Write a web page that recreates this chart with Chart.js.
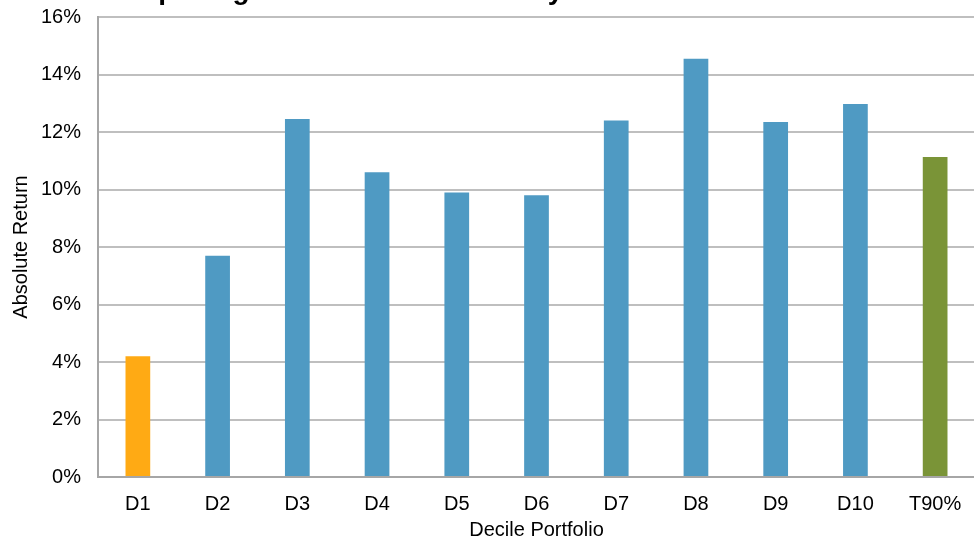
<!DOCTYPE html>
<html>
<head>
<meta charset="utf-8">
<script src="https://cdn.jsdelivr.net/npm/chart.js@4/dist/chart.umd.min.js"></script>
<style>
  html, body { margin: 0; padding: 0; background: #fff; overflow: hidden; }
  #wrap { position: relative; width: 975px; height: 540px; }
</style>
</head>
<body>
<div id="wrap"><canvas id="c"></canvas></div>
<script>
// Decile portfolios and their absolute returns (%)
const categories = ['D1', 'D2', 'D3', 'D4', 'D5', 'D6', 'D7', 'D8', 'D9', 'D10', 'T90%'];
const absoluteReturn = [4.2, 7.7, 12.45, 10.6, 9.9, 9.8, 12.4, 14.55, 12.35, 12.97, 11.13];
const yTicks = [0, 2, 4, 6, 8, 10, 12, 14, 16];
const chartTitle = 'Mid-Cap Weighted Total Return Analysis of the Russell';

const barColors = categories.map(c =>
  c === 'D1' ? '#FFAA14' : (c === 'T90%' ? '#7A9437' : '#4F9AC3'));

const FONT = "'Liberation Sans', Arial, sans-serif";

// Title drawn high so that it sits against the top edge of the canvas
const topTitle = {
  id: 'topTitle',
  afterDraw(chart) {
    const ctx = chart.ctx;
    ctx.save();
    ctx.font = 'bold 28px ' + FONT;
    ctx.fillStyle = '#000';
    ctx.textAlign = 'left';
    ctx.textBaseline = 'alphabetic';
    ctx.fillText(chartTitle, 65, -1);
    ctx.restore();
  }
};

new Chart(document.getElementById('c'), {
  type: 'bar',
  data: {
    labels: categories,
    datasets: [{
      data: absoluteReturn,
      backgroundColor: barColors,
      borderWidth: 0,
      barPercentage: 0.31,
      categoryPercentage: 1.0
    }]
  },
  options: {
    responsive: true,
    maintainAspectRatio: false,
    animation: false,
    layout: { padding: { top: 17, right: 0, bottom: 0, left: 0 } },
    plugins: {
      legend: { display: false },
      tooltip: { enabled: false }
    },
    scales: {
      x: {
        afterFit(axis) {
          axis.height = 63;
          axis.paddingLeft = 0;
          axis.paddingRight = 0;
        },
        grid: { display: false, drawTicks: false },
        border: { color: '#A6A6A6', width: 2 },
        ticks: { color: '#000', font: { family: FONT, size: 20 }, padding: 15 },
        title: {
          display: true, text: 'Decile Portfolio', color: '#000',
          font: { family: FONT, size: 20 }, padding: { top: 0, bottom: -2 }
        }
      },
      y: {
        min: 0, max: 16,
        afterBuildTicks(axis) { axis.ticks = yTicks.map(v => ({ value: v })); },
        afterFit(axis) {
          axis.width = 98;
          axis.paddingTop = 0;
          axis.paddingBottom = 0;
        },
        grid: { color: '#BFBFBF', lineWidth: 2, drawTicks: false },
        border: { color: '#A6A6A6', width: 2 },
        ticks: {
          color: '#000', font: { family: FONT, size: 20 }, padding: 17,
          callback: v => v + '%'
        },
        title: {
          display: true, text: 'Absolute Return', color: '#000',
          font: { family: FONT, size: 20 }, padding: { top: 9, bottom: 0 }
        }
      }
    }
  },
  plugins: [topTitle]
});
</script>
</body>
</html>
